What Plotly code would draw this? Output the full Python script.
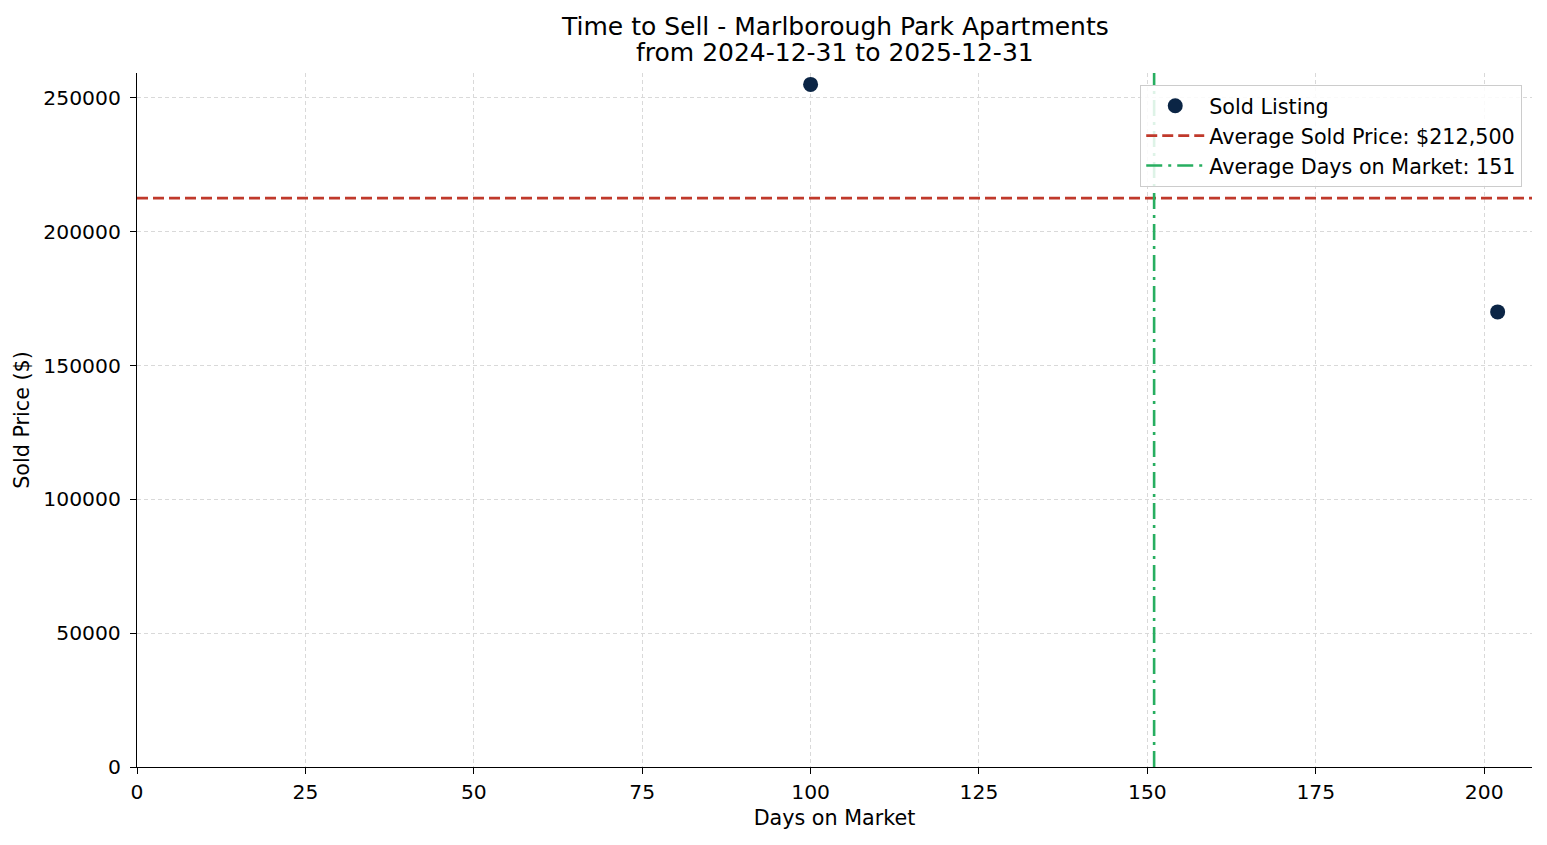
import plotly.graph_objects as go

# sold listings
days_on_market = [100, 202]
sold_prices = [255000, 170000]

avg_price = sum(sold_prices) / len(sold_prices)
avg_days = round(sum(days_on_market) / len(days_on_market))

# matplotlib-like limits: left at 0, 5% margin elsewhere
x_max = max(days_on_market) + 0.05 * (max(days_on_market) - min(days_on_market))
y_max = max(sold_prices) + 0.05 * (max(sold_prices) - min(sold_prices))

FONT = "DejaVu Sans"
TICK_SIZE = 20.3
LABEL_SIZE = 20.7

fig = go.Figure()

fig.add_trace(go.Scatter(
    x=days_on_market, y=sold_prices, mode="markers", name="Sold Listing",
    marker=dict(size=15, color="#0b2545", line=dict(width=0)),
))
fig.add_trace(go.Scatter(
    x=[0, x_max], y=[avg_price, avg_price], mode="lines",
    name=f"Average Sold Price: ${avg_price:,.0f}",
    line=dict(color="#c0392b", width=2.6, dash="11px,5px"),
))
fig.add_trace(go.Scatter(
    x=[avg_days, avg_days], y=[0, y_max], mode="lines",
    name=f"Average Days on Market: {avg_days}",
    line=dict(color="#27ae60", width=2.6, dash="16px,6px,3px,6px"),
))

axis_common = dict(
    showline=True, linecolor="#000000", linewidth=1.3,
    ticks="outside", ticklen=6, tickwidth=1.3, tickcolor="#000000",
    showgrid=True, gridcolor="#d9d9d9", griddash="4px,3px", gridwidth=0.8,
    zeroline=False, mirror=False,
    tickfont=dict(family=FONT, size=TICK_SIZE, color="#000000"),
)

fig.update_xaxes(
    range=[0, x_max], dtick=25, tick0=0,
    title=dict(text="Days on Market", font=dict(family=FONT, size=LABEL_SIZE, color="#000000"), standoff=8),
    **axis_common,
)
fig.update_yaxes(
    range=[0, y_max], dtick=50000, tick0=0, tickformat="d", ticklabelstandoff=5,
    title=dict(text="Sold Price ($)", font=dict(family=FONT, size=LABEL_SIZE, color="#000000"), standoff=8),
    **axis_common,
)

# page is shown with an 8px offset, so margins are trimmed by 8 on the left/top
W, H = 1539, 837
L, R, T, B = 129, 15, 65, 78
plot_h = H - T - B

# two-line title placed as annotations above the plot area
title_lines = ["Time to Sell - Marlborough Park Apartments", "from 2024-12-31 to 2025-12-31"]
for i, line in enumerate(title_lines):
    fig.add_annotation(
        text=line, xref="paper", yref="paper", x=0.5, xanchor="center",
        y=1 + (47 - 27 * i) / plot_h, yanchor="middle", showarrow=False,
        font=dict(family=FONT, size=25, color="#000000"),
    )

fig.update_layout(
    width=W, height=H,
    margin=dict(l=L, r=R, t=T, b=B),
    paper_bgcolor="white", plot_bgcolor="white",
    font=dict(family=FONT, size=LABEL_SIZE, color="#000000"),
    legend=dict(
        x=0.993, y=0.983, xanchor="right", yanchor="top",
        bgcolor="rgba(255,255,255,0.85)", bordercolor="#cccccc", borderwidth=1,
        font=dict(family=FONT, size=LABEL_SIZE, color="#000000"),
        tracegroupgap=0, itemwidth=58,
    ),
    showlegend=True,
)

fig.write_html("out.html")
